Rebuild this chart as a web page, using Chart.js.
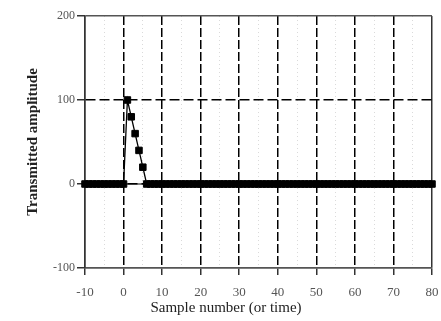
<!DOCTYPE html>
<html>
<head>
<meta charset="utf-8">
<script src="https://cdn.jsdelivr.net/npm/chart.js@4"></script>
<style>
  html, body { margin: 0; padding: 0; background: #fff; }
  #wrap { width: 441px; height: 321px; }
</style>
</head>
<body>
<div id="wrap"><canvas id="pulse"></canvas></div>
<script>
// sample numbers and transmitted amplitude
const samples = [-10, -9, -8, -7, -6, -5, -4, -3, -2, -1, 0,
  1, 2, 3, 4, 5, 6, 7, 8, 9, 10,
  11, 12, 13, 14, 15, 16, 17, 18, 19, 20,
  21, 22, 23, 24, 25, 26, 27, 28, 29, 30,
  31, 32, 33, 34, 35, 36, 37, 38, 39, 40,
  41, 42, 43, 44, 45, 46, 47, 48, 49, 50,
  51, 52, 53, 54, 55, 56, 57, 58, 59, 60,
  61, 62, 63, 64, 65, 66, 67, 68, 69, 70,
  71, 72, 73, 74, 75, 76, 77, 78, 79, 80];
const amplitude = [0, 0, 0, 0, 0, 0, 0, 0, 0, 0, 0,
  100, 80, 60, 40, 20, 0, 0, 0, 0, 0,
  0, 0, 0, 0, 0, 0, 0, 0, 0, 0,
  0, 0, 0, 0, 0, 0, 0, 0, 0, 0,
  0, 0, 0, 0, 0, 0, 0, 0, 0, 0,
  0, 0, 0, 0, 0, 0, 0, 0, 0, 0,
  0, 0, 0, 0, 0, 0, 0, 0, 0, 0,
  0, 0, 0, 0, 0, 0, 0, 0, 0, 0,
  0, 0, 0, 0, 0, 0, 0, 0, 0, 0];
const baselineX = [-10, 80];
const baselineY = [0, 0];

const xTitle = 'Sample number (or time)';
const yTitle = 'Transmitted amplitude';

const serif = "'Liberation Serif', 'Times New Roman', serif";

// x title sits left of the plot centre in the original
const xTitlePlugin = {
  id: 'xTitle',
  afterDraw(chart) {
    const ctx = chart.ctx;
    ctx.save();
    ctx.font = '15px ' + serif;
    ctx.fillStyle = '#222';
    ctx.textAlign = 'center';
    ctx.textBaseline = 'middle';
    ctx.fillText(xTitle, 226, 308);
    ctx.restore();
  }
};

new Chart(document.getElementById('pulse'), {
  type: 'line',
  data: {
    datasets: [{
      label: 'baseline',
      data: baselineX.map((x, i) => ({ x: x, y: baselineY[i] })),
      borderColor: '#000',
      borderWidth: 1,
      pointRadius: 0,
      clip: false
    }, {
      label: 'amplitude',
      data: samples.map((x, i) => ({ x: x, y: amplitude[i] })),
      borderColor: '#000',
      borderWidth: 1.3,
      pointStyle: 'rect',
      pointRadius: 4.6,
      pointBorderWidth: 1,
      pointBackgroundColor: '#000',
      pointBorderColor: '#000',
      tension: 0,
      clip: false
    }]
  },
  options: {
    responsive: true,
    maintainAspectRatio: false,
    animation: false,
    layout: { padding: { left: 0, right: 9, top: 16, bottom: 0 } },
    plugins: {
      legend: { display: false },
      tooltip: { enabled: false }
    },
    scales: {
      x: {
        type: 'linear',
        min: -10,
        max: 80,
        afterFit: s => { s.height = 53; s.paddingLeft = 0; s.paddingRight = 0; },
        ticks: {
          stepSize: 5,
          autoSkip: false,
          maxRotation: 0,
          padding: 10,
          color: '#555',
          font: { family: serif, size: 13 },
          callback: v => (v % 10 === 0 ? String(v) : '')
        },
        grid: {
          color: c => {
            const v = c.tick ? c.tick.value : 0;
            if (v % 10 !== 0) return '#dadada';
            if (v === -10 || v === 80) return '#333';
            return '#000';
          },
          lineWidth: c => {
            const v = c.tick ? c.tick.value : 0;
            return v % 10 === 0 ? 1.5 : 1;
          },
          tickLength: 7,
          tickColor: c => {
            const v = c.tick ? c.tick.value : 0;
            return v % 10 === 0 ? '#333' : 'rgba(0,0,0,0)';
          }
        },
        border: {
          color: '#555',
          width: 1.5,
          dash: c => {
            const v = c.tick ? c.tick.value : 0;
            if (v % 10 !== 0) return [1, 3];
            if (v === -10 || v === 80) return [];
            return [9, 3];
          }
        }
      },
      y: {
        type: 'linear',
        min: -100,
        max: 200,
        afterFit: s => { s.width = 85; s.paddingTop = 0; s.paddingBottom = 0; },
        ticks: {
          stepSize: 100,
          padding: 2,
          color: '#555',
          font: { family: serif, size: 12 }
        },
        grid: {
          color: c => {
            const v = c.tick ? c.tick.value : 0;
            return (v === 200 || v === -100) ? '#555' : '#000';
          },
          lineWidth: 1.5,
          tickLength: 8,
          tickColor: '#333'
        },
        border: {
          color: '#333',
          width: 1.5,
          dash: c => {
            const v = c.tick ? c.tick.value : 0;
            return (v === 200 || v === -100) ? [] : [10, 4];
          }
        },
        title: {
          display: true,
          text: yTitle,
          color: '#222',
          padding: { top: 24, bottom: 0 },
          font: { family: serif, size: 15, weight: 'bold' }
        }
      }
    }
  },
  plugins: [xTitlePlugin]
});
</script>
</body>
</html>
